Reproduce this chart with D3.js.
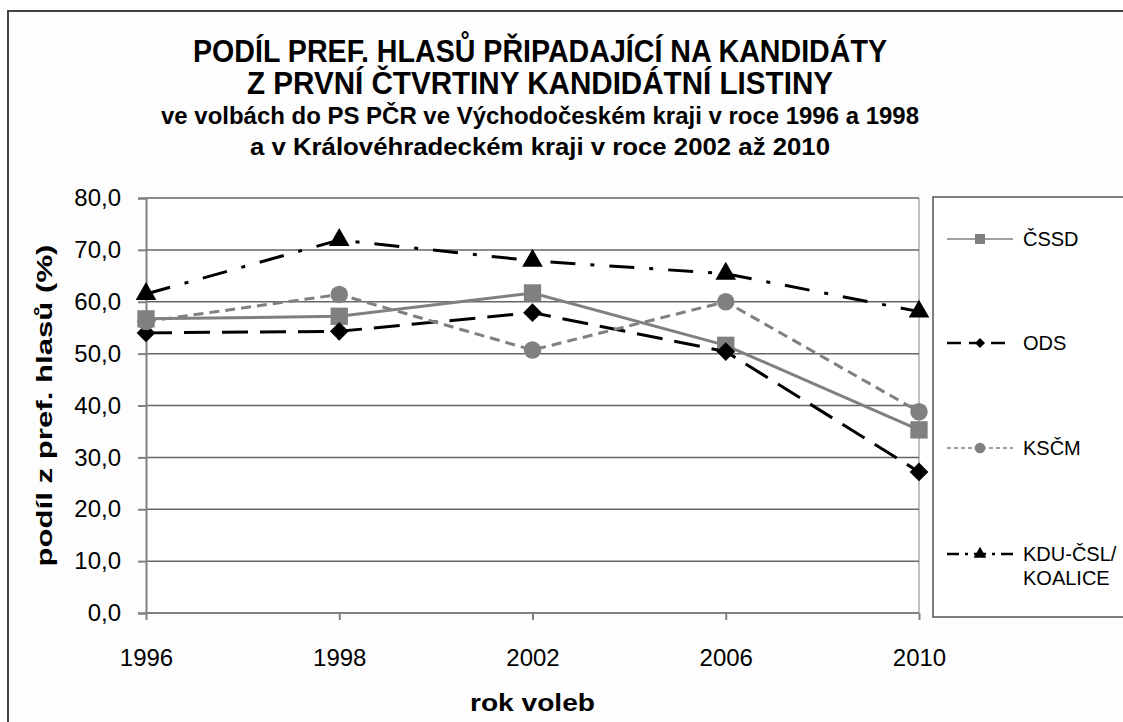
<!DOCTYPE html>
<html>
<head>
<meta charset="utf-8">
<script src="https://cdn.jsdelivr.net/npm/d3@7"></script>
<style>
  html, body { margin: 0; padding: 0; background: #fff; }
  svg { display: block; font-family: "Liberation Sans", Arial, sans-serif; }
</style>
</head>
<body>
<svg id="chart"></svg>
<script>
// Podíl preferenčních hlasů – line chart

const width = 1123;
const height = 722;

// data
const years = ["1996", "1998", "2002", "2006", "2010"];
const cssd = [56.7, 57.2, 61.7, 51.6, 35.3];
const ods = [54.0, 54.3, 57.9, 50.4, 27.2];
const kscm = [56.2, 61.4, 50.7, 60.0, 38.8];
const kdu = [61.5, 71.9, 67.9, 65.4, 58.1];
const yTicks = [0, 10, 20, 30, 40, 50, 60, 70, 80];

const titleLines = [
  "PODÍL PREF. HLASŮ PŘIPADAJÍCÍ NA KANDIDÁTY",
  "Z PRVNÍ ČTVRTINY KANDIDÁTNÍ LISTINY",
  "ve volbách do PS PČR ve Východočeském kraji v roce 1996 a 1998",
  "a v Královéhradeckém kraji v roce 2002 až 2010"
];

// series styles
const series = [
  { name: ["ČSSD"], values: cssd, color: "#808080", dash: null, width: 3,
    symbol: d3.symbolSquare, size: 300, rot: 0, lsize: 100, lwidth: 1.5, ldash: null },
  { name: ["ODS"], values: ods, color: "#000", dash: "26,12", width: 3,
    symbol: d3.symbolSquare, size: 175, rot: 45, lsize: 50, lwidth: 2.5, ldash: "14,8" },
  { name: ["KSČM"], values: kscm, color: "#808080", dash: "10,6", width: 3,
    symbol: d3.symbolCircle, size: 240, rot: 0, lsize: 90, lwidth: 1.5, ldash: "4,3" },
  { name: ["KDU-ČSL/", "KOALICE"], values: kdu, color: "#000", dash: "25,15,4,15", width: 3,
    symbol: d3.symbolTriangle, size: 185, rot: 0, lsize: 70, lwidth: 2.5, ldash: "12,6,3,6" }
];

const svg = d3.select("#chart")
    .attr("width", width)
    .attr("height", height);

// outer chart frame (runs off the right/bottom edge)
svg.append("rect")
    .attr("x", 8).attr("y", 11)
    .attr("width", width + 20).attr("height", height + 20)
    .attr("fill", "#fdfdfd")
    .attr("stroke", "#444")
    .attr("stroke-width", 2);

// titles
const titleFmt = [
  { y: 62, size: 31, len: 694 },
  { y: 94, size: 31, len: 586 },
  { y: 124, size: 23, len: 758 },
  { y: 155, size: 23, len: 580 }
];
svg.append("g")
  .selectAll("text")
  .data(titleLines)
  .join("text")
    .attr("x", 540)
    .attr("y", (d, i) => titleFmt[i].y)
    .attr("text-anchor", "middle")
    .attr("font-weight", "bold")
    .attr("font-size", (d, i) => titleFmt[i].size)
    .attr("textLength", (d, i) => titleFmt[i].len)
    .attr("lengthAdjust", "spacingAndGlyphs")
    .text(d => d);

// scales
const x = d3.scalePoint().domain(years).range([146, 919]);
const y = d3.scaleLinear().domain([0, 80]).range([613, 198]);

// plot area background + right border
svg.append("rect")
    .attr("x", x.range()[0]).attr("y", y(80))
    .attr("width", x.range()[1] - x.range()[0])
    .attr("height", y(0) - y(80))
    .attr("fill", "#fff");

svg.append("line")
    .attr("x1", x.range()[1]).attr("x2", x.range()[1])
    .attr("y1", y(80)).attr("y2", y(0))
    .attr("stroke", "#c0c0c0")
    .attr("stroke-width", 2);

// gridlines
svg.append("g")
  .selectAll("line")
  .data(yTicks.filter(d => d > 0))
  .join("line")
    .attr("x1", x.range()[0]).attr("x2", x.range()[1])
    .attr("y1", d => y(d)).attr("y2", d => y(d))
    .attr("stroke", "#666")
    .attr("stroke-width", 1.5);

// axes
const fmt = d => d3.format(".1f")(d).replace(".", ",");

const yAxis = svg.append("g")
    .attr("transform", `translate(${x.range()[0]},0)`)
    .call(d3.axisLeft(y).tickValues(yTicks).tickSize(8).tickPadding(17).tickFormat(fmt));

const xAxis = svg.append("g")
    .attr("transform", `translate(0,${y(0)})`)
    .call(d3.axisBottom(x).tickSize(7).tickPadding(29).tickSizeOuter(0));

[yAxis, xAxis].forEach(g => {
  g.select(".domain").attr("stroke", "#808080").attr("stroke-width", 2);
  g.selectAll(".tick line").attr("stroke", "#808080").attr("stroke-width", 2);
  g.selectAll(".tick text")
    .attr("font-size", 24)
    .attr("font-family", "'Liberation Sans', Arial, sans-serif")
    .attr("fill", "#000");
});
xAxis.select(".domain").attr("d", `M${x.range()[0]},0H${x.range()[1]}`);

// axis titles
svg.append("text")
    .attr("transform", `translate(52,${(y(0) + y(80)) / 2}) rotate(-90)`)
    .attr("text-anchor", "middle")
    .attr("font-weight", "bold")
    .attr("font-size", 22)
    .attr("textLength", 322)
    .attr("lengthAdjust", "spacingAndGlyphs")
    .text("podíl z pref. hlasů (%)");

svg.append("text")
    .attr("x", (x.range()[0] + x.range()[1]) / 2)
    .attr("y", 711)
    .attr("text-anchor", "middle")
    .attr("font-weight", "bold")
    .attr("font-size", 23)
    .attr("textLength", 125)
    .attr("lengthAdjust", "spacingAndGlyphs")
    .text("rok voleb");

// lines
const line = d3.line()
    .x((d, i) => x(years[i]))
    .y(d => y(d));

const plotG = svg.append("g");

series.forEach(s => {
  plotG.append("path")
      .datum(s.values)
      .attr("fill", "none")
      .attr("stroke", s.color)
      .attr("stroke-width", s.width)
      .attr("stroke-dasharray", s.dash)
      .attr("d", line);

  plotG.append("g")
    .selectAll("path")
    .data(s.values)
    .join("path")
      .attr("transform", (d, i) => `translate(${x(years[i])},${y(d)}) rotate(${s.rot})`)
      .attr("d", d3.symbol(s.symbol, s.size))
      .attr("fill", s.color);
});

// legend
const legend = svg.append("g");
legend.append("rect")
    .attr("x", 933).attr("y", 197)
    .attr("width", 220).attr("height", 420)
    .attr("fill", "#fff")
    .attr("stroke", "#555")
    .attr("stroke-width", 1.5);

const legendY = [239, 343, 448, 554];

series.forEach((s, i) => {
  const g = legend.append("g").attr("transform", `translate(0,${legendY[i]})`);
  g.append("line")
      .attr("x1", 947).attr("x2", 1013)
      .attr("stroke", s.color)
      .attr("stroke-width", s.lwidth)
      .attr("stroke-dasharray", s.ldash);
  g.append("path")
      .attr("transform", `translate(980,0) rotate(${s.rot})`)
      .attr("d", d3.symbol(s.symbol, s.lsize))
      .attr("fill", s.color);
  g.selectAll("text")
    .data(s.name)
    .join("text")
      .attr("x", 1023)
      .attr("y", (d, j) => 7 + j * 24)
      .attr("font-size", 20)
      .text(d => d);
});
</script>
</body>
</html>
